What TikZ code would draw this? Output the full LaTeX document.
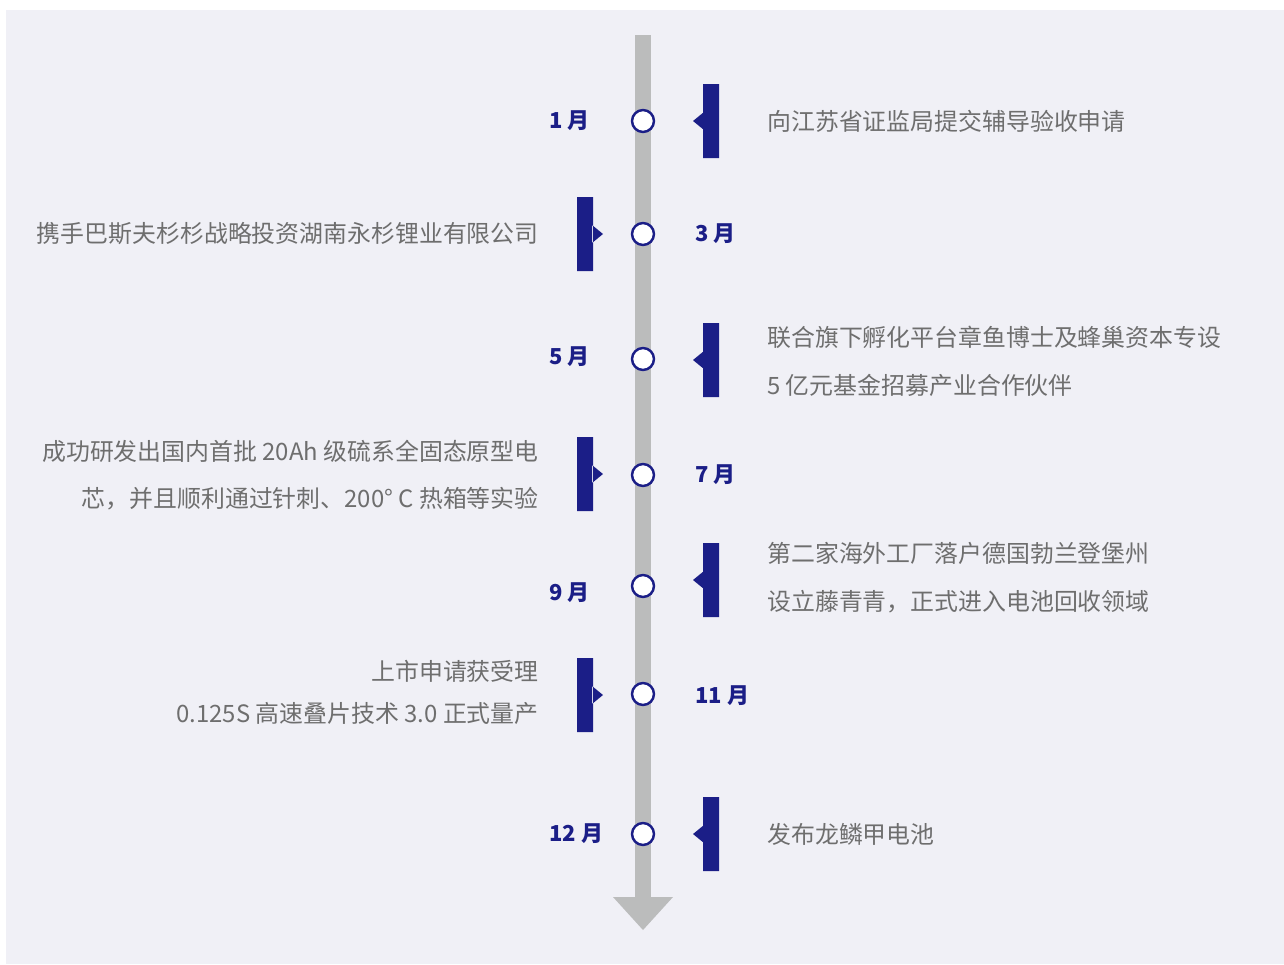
\documentclass[tikz,border=0pt]{standalone}
\usepackage{fontspec}
\setmainfont{Noto Sans CJK SC}
\definecolor{navy}{HTML}{1B1E87}
\definecolor{axisgray}{HTML}{BBBCBC}
\definecolor{txtgray}{HTML}{6E6E6E}
\definecolor{bggray}{HTML}{F0F0F6}
\tikzset{
  month/.style={font=\fontsize{12.5}{15}\selectfont\bfseries, text=navy, inner sep=0pt},
  event/.style={font=\fontsize{13.6}{27.2}\selectfont, text=txtgray, inner sep=0pt},
  dot/.style={draw=navy, line width=1.4pt, fill=white},
}
\begin{document}
\begin{tikzpicture}[x=0.02cm, y=-0.02cm, line join=round, >=stealth]
  \def\ax{643} \def\bw{37}
  \useasboundingbox (0,0) rectangle (1284,964);
  \fill[bggray] (6,10) rectangle (1284,964);
  % axis
  \fill[axisgray] (635,35) rectangle (651,898);
  \fill[axisgray] (613,897)--(673,897)--(\ax,930)--cycle;
  % markers right / left
  \foreach \y in {121,360,580,834}
    \fill[navy] (703,\y-\bw) rectangle (719,\y+\bw) (704,\y-9)--(693,\y)--(704,\y+9)--cycle;
  \foreach \y in {234,474,695}
    \fill[navy] (577,\y-\bw) rectangle (593,\y+\bw) (592,\y-9)--(603,\y)--(592,\y+9)--cycle;
  % dots
  \foreach \y [count=\i] in {121,234,359,475,586,694,834}
    \node[dot, circle, minimum size=12.5pt, inner sep=0pt] (d\i) at (\ax,\y) {};
  % months
  \node[month, anchor=west] (m1) at (549,121) {1 月};
  \node[month, anchor=west] (m3) at (695,234) {3 月};
  \node[month, anchor=west] (m5) at (549,357) {5 月};
  \node[month, anchor=west] (m7) at (695,475) {7 月};
  \node[month, anchor=west] (m9) at (549,593) {9 月};
  \node[month, anchor=west] (m11) at (695,696) {11 月};
  \node[month, anchor=west] (m12) at (549,834) {12 月};
  % events
  \node[event, anchor=west, align=left] (e1) at (767,121) {向江苏省证监局提交辅导验收申请};
  \node[event, anchor=east, align=right] (e3) at (539,234) {携手巴斯夫杉杉战略投资湖南永杉锂业有限公司};
  \node[event, anchor=west, align=left] (e5) at (767,361) {联合旗下孵化平台章鱼博士及蜂巢资本专设\\5 亿元基金招募产业合作伙伴};
  \node[event, anchor=east, align=right] (e7) at (539,475) {成功研发出国内首批 20Ah 级硫系全固态原型电\\芯，并且顺利通过针刺、200° C 热箱等实验};
  \node[event, anchor=west, align=left] (e9) at (767,578) {第二家海外工厂落户德国勃兰登堡州\\设立藤青青，正式进入电池回收领域};
  \node[event, anchor=east, align=right, font=\fontsize{13.6}{23.8}\selectfont] (e11) at (539,692) {上市申请获受理\\0.125S 高速叠片技术 3.0 正式量产};
  \node[event, anchor=west, align=left] (e12) at (767,834) {发布龙鳞甲电池};
\end{tikzpicture}
\end{document}
